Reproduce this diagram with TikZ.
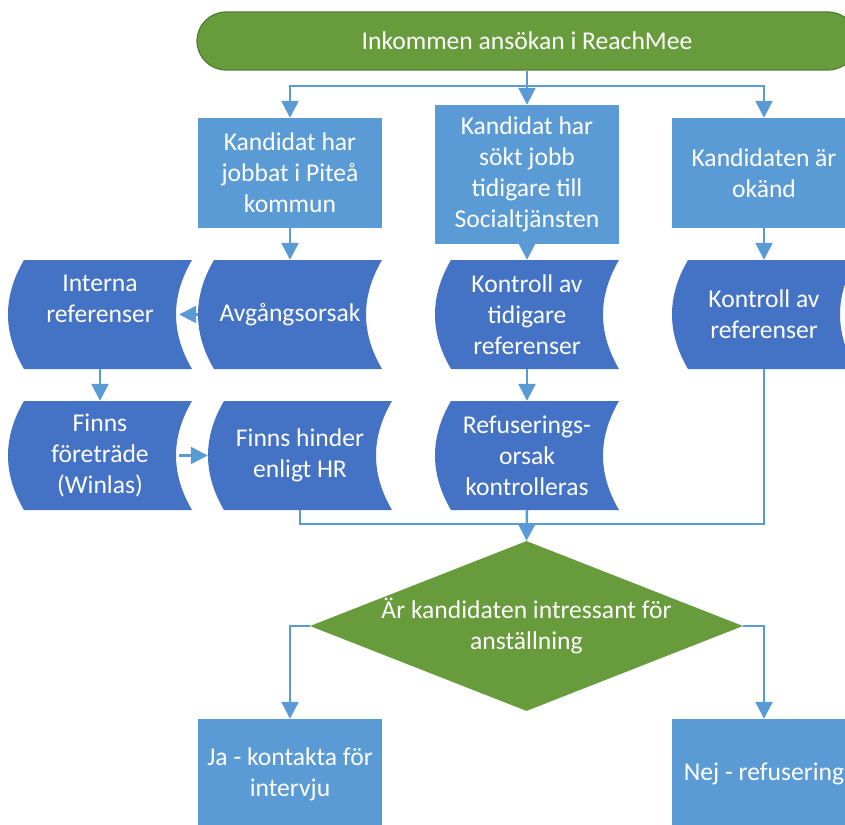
\documentclass[tikz,border=0pt]{standalone}
\usepackage{fontspec}
\setmainfont{Carlito}
\usetikzlibrary{shapes.geometric,arrows.meta,calc}
\definecolor{ltblue}{HTML}{5B9BD5}
\definecolor{dkblue}{HTML}{4472C4}
\definecolor{grn}{HTML}{689B3C}
\definecolor{grnedge}{HTML}{507E32}
\newcommand\bigtxt{\fontsize{25.6pt}{31pt}\selectfont}
\newcommand\sdfill{%
  \fill[dkblue] ([xshift=16pt]path picture bounding box.north west)
   -- (path picture bounding box.north east)
   .. controls ([xshift=-21.33pt,yshift=-36.33pt]path picture bounding box.north east)
   and ([xshift=-21.33pt,yshift=36.33pt]path picture bounding box.south east)
   .. (path picture bounding box.south east)
   -- ([xshift=16pt]path picture bounding box.south west)
   .. controls ([xshift=-5.33pt,yshift=36.33pt]path picture bounding box.south west)
   and ([xshift=-5.33pt,yshift=-36.33pt]path picture bounding box.north west)
   .. cycle;}
\tikzset{
  txt/.style={text=white, font=\bigtxt, align=center, inner sep=0pt},
  term/.style={txt, fill=grn, draw=grnedge, line width=1.2pt, rounded corners=29pt,
    minimum width=660pt, minimum height=58pt},
  pbox/.style={txt, fill=ltblue, minimum width=184pt},
  sdata/.style={txt, minimum width=184pt, minimum height=109pt, path picture={\sdfill}},
  dia/.style={diamond, fill=grn, minimum width=433pt, minimum height=170pt, inner sep=0pt},
  conn/.style={draw=ltblue, line width=2.5pt},
  arr/.style={conn, -{Triangle[width=17pt,length=17pt]}}
}
\begin{document}
\begin{tikzpicture}[x=1pt,y=-1pt]
\useasboundingbox (0,0) rectangle (845,824);
\clip (0,0) rectangle (845,824);
\node[term] (start) at (527,41) {Inkommen ansökan i ReachMee};
\node[pbox, minimum height=110pt] (b1) at (290,173) {Kandidat har\\jobbat i Piteå\\kommun};
\node[pbox, minimum height=139pt] (b2) at (527,174.5) {Kandidat har\\sökt jobb\\tidigare till\\Socialtjänsten};
\node[pbox, minimum height=110pt] (b3) at (764,173) {Kandidaten är\\okänd};
\node[sdata] (interna) at (100,314.5) {Interna\\referenser\\~};
\node[sdata] (avg) at (290,314.5) {Avgångsorsak};
\node[sdata] (ktid) at (527,314.5) {Kontroll av\\tidigare\\referenser};
\node[sdata] (kref) at (764,314.5) {Kontroll av\\referenser};
\node[sdata] (foretr) at (100,455.5) {Finns\\företräde\\(Winlas)};
\node[sdata] (hinder) at (300,455.5) {Finns hinder\\enligt HR};
\node[sdata] (refus) at (527,455.5) {Refuserings-\\orsak\\kontrolleras};
\node[dia] (dia) at (526.5,626) {};
\node[txt] (diatxt) at (dia.center) {Är kandidaten intressant för\\anställning};
\node[pbox, minimum height=110pt] (ja) at (290,774) {Ja - kontakta för\\intervju};
\node[pbox, minimum height=110pt] (nej) at (764,774) {Nej - refusering};
\coordinate (split) at (527,86);
\coordinate (join) at (527,524);
\draw[arr] (start.south) -- (b2.north);
\draw[arr] (split) -| (b1.north);
\draw[arr] (split) -| (b3.north);
\draw[arr] (b1.south) -- (avg.north);
\draw[arr] (b2.south) -- (ktid.north);
\draw[arr] (b3.south) -- (kref.north);
\draw[arr] (avg.west) -- ([xshift=-13pt]interna.east);
\draw[arr] (interna.south) -- (foretr.north);
\draw[arr] ([xshift=-13pt]foretr.east) -- (hinder.west);
\draw[arr] (ktid.south) -- (refus.north);
\draw[conn] (hinder.south) |- (join);
\draw[conn] (kref.south) |- (join);
\draw[arr] (refus.south) -- (dia.north);
\draw[arr] (dia.west) -| (ja.north);
\draw[arr] (dia.east) -| (nej.north);
\end{tikzpicture}
\end{document}
